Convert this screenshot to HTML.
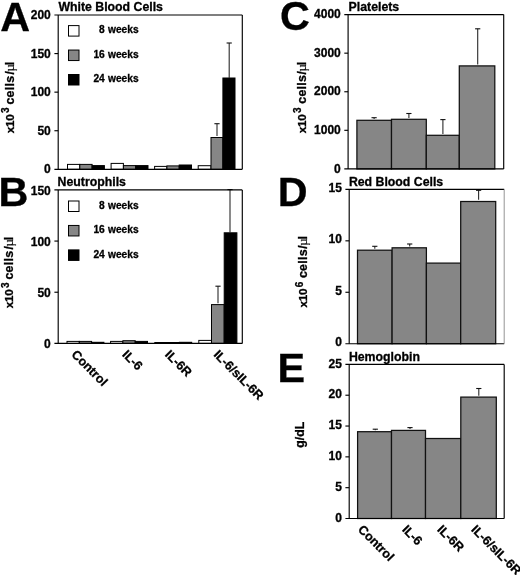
<!DOCTYPE html>
<html lang="en">
<head>
<meta charset="utf-8">
<title>Figure</title>
<style>
html,body{margin:0;padding:0;background:#fff;}
body{width:520px;height:575px;overflow:hidden;}
svg{display:block;}
svg text{font-family:"Liberation Sans",sans-serif;font-weight:bold;fill:#000;stroke:#000;stroke-width:0.3px;}
.lg{word-spacing:0.4px;}
svg text.mu{font-family:"Liberation Serif",serif;font-weight:normal;stroke-width:0.15px;font-size:13px;}
</style>
</head>
<body>
<svg width="520" height="575" viewBox="0 0 520 575">
<rect x="0" y="0" width="520" height="575" fill="#fff"/>
<g id="panelA">
<text x="0.2" y="31.1" font-size="41.3" text-anchor="start" >A</text>
<text x="58.4" y="10.6" font-size="12.3" text-anchor="start" >White Blood Cells</text>
<rect x="67.50" y="164.40" width="12.30" height="4.90" fill="#fff" stroke="#000" stroke-width="1"/>
<rect x="79.80" y="164.40" width="12.30" height="4.90" fill="#868686" stroke="#000" stroke-width="1"/>
<rect x="92.10" y="165.60" width="12.30" height="3.70" fill="#000" stroke="#000" stroke-width="1"/>
<rect x="111.10" y="163.40" width="12.30" height="5.90" fill="#fff" stroke="#000" stroke-width="1"/>
<rect x="123.40" y="165.60" width="12.30" height="3.70" fill="#868686" stroke="#000" stroke-width="1"/>
<rect x="135.70" y="165.60" width="12.30" height="3.70" fill="#000" stroke="#000" stroke-width="1"/>
<rect x="154.60" y="166.40" width="12.30" height="2.90" fill="#fff" stroke="#000" stroke-width="1"/>
<rect x="166.90" y="165.90" width="12.30" height="3.40" fill="#868686" stroke="#000" stroke-width="1"/>
<rect x="179.20" y="165.00" width="12.30" height="4.30" fill="#000" stroke="#000" stroke-width="1"/>
<rect x="198.20" y="165.70" width="12.80" height="3.60" fill="#fff" stroke="#000" stroke-width="1"/>
<rect x="211.00" y="137.50" width="11.90" height="31.80" fill="#868686" stroke="#000" stroke-width="1"/>
<rect x="222.90" y="78.00" width="12.10" height="91.30" fill="#000" stroke="#000" stroke-width="1"/>
<line x1="217.0" y1="123.7" x2="217.0" y2="136.1" stroke="#2a2a2a" stroke-width="1.1"/>
<line x1="214.4" y1="123.7" x2="219.6" y2="123.7" stroke="#111" stroke-width="1.1"/>
<line x1="229.2" y1="43.0" x2="229.2" y2="78.0" stroke="#2a2a2a" stroke-width="1.1"/>
<line x1="226.6" y1="43.0" x2="231.79999999999998" y2="43.0" stroke="#111" stroke-width="1.1"/>
<line x1="58.2" y1="15.0" x2="58.2" y2="169.3" stroke="#000" stroke-width="1.15"/>
<line x1="54.400000000000006" y1="169.3" x2="242.3" y2="169.3" stroke="#000" stroke-width="1.15"/>
<line x1="54.400000000000006" y1="15.0" x2="242.3" y2="15.0" stroke="#000" stroke-width="1.15"/>
<line x1="242.3" y1="15.0" x2="242.3" y2="169.3" stroke="#000" stroke-width="1.15"/>
<text x="50.8" y="173.4" font-size="12" text-anchor="end" >0</text>
<line x1="54.400000000000006" y1="130.73" x2="58.2" y2="130.73" stroke="#000" stroke-width="1.15"/>
<text x="50.8" y="134.83" font-size="12" text-anchor="end" >50</text>
<line x1="54.400000000000006" y1="92.15" x2="58.2" y2="92.15" stroke="#000" stroke-width="1.15"/>
<text x="50.8" y="96.25" font-size="12" text-anchor="end" >100</text>
<line x1="54.400000000000006" y1="53.58" x2="58.2" y2="53.58" stroke="#000" stroke-width="1.15"/>
<text x="50.8" y="57.68" font-size="12" text-anchor="end" >150</text>
<text x="50.8" y="19.1" font-size="12" text-anchor="end" >200</text>
<g transform="translate(13.5,133.2) rotate(-90)" font-size="12.4"><text x="0" y="0" font-size="11.7" letter-spacing="-0.25">x10</text><text x="20.3" y="-4.7" font-size="10">3</text><text x="28.6" y="0" letter-spacing="0.3">cells</text><text x="58.7" y="0">/</text><text x="61.7" y="0" class="mu">µ</text><text x="68.0" y="0">l</text></g>
<rect x="68.50" y="25.60" width="10.50" height="10.50" fill="#fff" stroke="#000" stroke-width="1"/>
<text x="138.6" y="33.2" font-size="10.2" text-anchor="end" class="lg">8 weeks</text>
<rect x="68.50" y="50.05" width="10.50" height="10.50" fill="#868686" stroke="#000" stroke-width="1"/>
<text x="138.6" y="57.65" font-size="10.2" text-anchor="end" class="lg">16 weeks</text>
<rect x="68.50" y="74.50" width="10.50" height="10.50" fill="#000" stroke="#000" stroke-width="1"/>
<text x="138.6" y="82.1" font-size="10.2" text-anchor="end" class="lg">24 weeks</text>
</g>
<g id="panelB">
<text x="-1.6" y="206.4" font-size="41.3" text-anchor="start" >B</text>
<text x="57.6" y="186.2" font-size="12.3" text-anchor="start" >Neutrophils</text>
<rect x="67.00" y="341.40" width="12.30" height="2.00" fill="#fff" stroke="#000" stroke-width="1"/>
<rect x="79.30" y="341.40" width="12.30" height="2.00" fill="#868686" stroke="#000" stroke-width="1"/>
<rect x="91.60" y="342.30" width="12.30" height="1.10" fill="#000" stroke="#000" stroke-width="1"/>
<rect x="110.60" y="341.40" width="12.30" height="2.00" fill="#fff" stroke="#000" stroke-width="1"/>
<rect x="122.90" y="340.70" width="12.30" height="2.70" fill="#868686" stroke="#000" stroke-width="1"/>
<rect x="135.20" y="341.40" width="12.30" height="2.00" fill="#000" stroke="#000" stroke-width="1"/>
<rect x="154.80" y="342.50" width="12.30" height="0.90" fill="#fff" stroke="#000" stroke-width="1"/>
<rect x="167.10" y="342.50" width="12.30" height="0.90" fill="#868686" stroke="#000" stroke-width="1"/>
<rect x="179.40" y="342.30" width="12.30" height="1.10" fill="#000" stroke="#000" stroke-width="1"/>
<rect x="198.80" y="340.40" width="12.70" height="3.00" fill="#fff" stroke="#000" stroke-width="1"/>
<rect x="211.50" y="304.60" width="12.70" height="38.80" fill="#868686" stroke="#000" stroke-width="1"/>
<rect x="224.20" y="232.80" width="12.70" height="110.60" fill="#000" stroke="#000" stroke-width="1"/>
<line x1="218.0" y1="286.2" x2="218.0" y2="303.2" stroke="#2a2a2a" stroke-width="1.1"/>
<line x1="215.4" y1="286.2" x2="220.6" y2="286.2" stroke="#111" stroke-width="1.1"/>
<line x1="230.0" y1="189.6" x2="230.0" y2="232.8" stroke="#2a2a2a" stroke-width="1.1"/>
<line x1="227.4" y1="189.6" x2="232.6" y2="189.6" stroke="#111" stroke-width="1.1"/>
<line x1="58.2" y1="189.9" x2="58.2" y2="343.4" stroke="#000" stroke-width="1.15"/>
<line x1="54.400000000000006" y1="343.4" x2="242.3" y2="343.4" stroke="#000" stroke-width="1.15"/>
<line x1="54.400000000000006" y1="189.9" x2="242.3" y2="189.9" stroke="#000" stroke-width="1.15"/>
<line x1="242.3" y1="189.9" x2="242.3" y2="343.4" stroke="#000" stroke-width="1.15"/>
<text x="50.8" y="348.1" font-size="12" text-anchor="end" >0</text>
<line x1="54.400000000000006" y1="292.23" x2="58.2" y2="292.23" stroke="#000" stroke-width="1.15"/>
<text x="50.8" y="296.93" font-size="12" text-anchor="end" >50</text>
<line x1="54.400000000000006" y1="241.07" x2="58.2" y2="241.07" stroke="#000" stroke-width="1.15"/>
<text x="50.8" y="245.77" font-size="12" text-anchor="end" >100</text>
<text x="50.8" y="194.6" font-size="12" text-anchor="end" >150</text>
<g transform="translate(13.2,308.2) rotate(-90)" font-size="12.4"><text x="0" y="0" font-size="11.7" letter-spacing="-0.25">x10</text><text x="20.3" y="-4.7" font-size="10">3</text><text x="28.6" y="0" letter-spacing="0.3">cells</text><text x="58.7" y="0">/</text><text x="61.7" y="0" class="mu">µ</text><text x="68.0" y="0">l</text></g>
<rect x="68.50" y="201.00" width="10.50" height="10.50" fill="#fff" stroke="#000" stroke-width="1"/>
<text x="138.6" y="208.6" font-size="10.2" text-anchor="end" class="lg">8 weeks</text>
<rect x="68.50" y="225.45" width="10.50" height="10.50" fill="#868686" stroke="#000" stroke-width="1"/>
<text x="138.6" y="233.05" font-size="10.2" text-anchor="end" class="lg">16 weeks</text>
<rect x="68.50" y="249.90" width="10.50" height="10.50" fill="#000" stroke="#000" stroke-width="1"/>
<text x="138.6" y="257.5" font-size="10.2" text-anchor="end" class="lg">24 weeks</text>
<text transform="translate(70.8,355.2) rotate(45)" font-size="12.6">Control</text>
<text transform="translate(121.6,355.2) rotate(45)" font-size="12.6">IL-6</text>
<text transform="translate(164.3,355.2) rotate(45)" font-size="12.6">IL-6R</text>
<text transform="translate(212.9,355.2) rotate(45)" font-size="12.6">IL-6/sIL-6R</text>
</g>
<g id="panelC">
<text x="279.9" y="30.3" font-size="41.3" text-anchor="start" >C</text>
<text x="348.6" y="10.8" font-size="12.3" text-anchor="start" >Platelets</text>
<rect x="356.90" y="120.30" width="34.60" height="48.60" fill="#868686" stroke="#111" stroke-width="1.25"/>
<rect x="391.50" y="119.30" width="34.80" height="49.60" fill="#868686" stroke="#111" stroke-width="1.25"/>
<rect x="426.30" y="135.30" width="33.00" height="33.60" fill="#868686" stroke="#111" stroke-width="1.25"/>
<rect x="459.30" y="65.90" width="35.50" height="103.00" fill="#868686" stroke="#111" stroke-width="1.25"/>
<line x1="374.1" y1="117.7" x2="374.1" y2="118.9" stroke="#2a2a2a" stroke-width="1.1"/>
<line x1="371.5" y1="117.7" x2="376.70000000000005" y2="117.7" stroke="#111" stroke-width="1.1"/>
<line x1="408.9" y1="113.5" x2="408.9" y2="117.9" stroke="#2a2a2a" stroke-width="1.1"/>
<line x1="406.29999999999995" y1="113.5" x2="411.5" y2="113.5" stroke="#111" stroke-width="1.1"/>
<line x1="442.9" y1="119.6" x2="442.9" y2="133.9" stroke="#2a2a2a" stroke-width="1.1"/>
<line x1="440.29999999999995" y1="119.6" x2="445.5" y2="119.6" stroke="#111" stroke-width="1.1"/>
<line x1="477.7" y1="28.8" x2="477.7" y2="64.5" stroke="#2a2a2a" stroke-width="1.1"/>
<line x1="475.09999999999997" y1="28.8" x2="480.3" y2="28.8" stroke="#111" stroke-width="1.1"/>
<line x1="348.1" y1="14.6" x2="348.1" y2="168.9" stroke="#000" stroke-width="1.15"/>
<line x1="344.3" y1="168.9" x2="503.7" y2="168.9" stroke="#000" stroke-width="1.15"/>
<line x1="344.3" y1="14.6" x2="503.7" y2="14.6" stroke="#000" stroke-width="1.15"/>
<line x1="503.7" y1="14.6" x2="503.7" y2="168.9" stroke="#000" stroke-width="1.15"/>
<text x="340.8" y="172.6" font-size="12" text-anchor="end" >0</text>
<line x1="344.3" y1="130.32" x2="348.1" y2="130.32" stroke="#000" stroke-width="1.15"/>
<text x="340.8" y="134.02" font-size="12" text-anchor="end" >1000</text>
<line x1="344.3" y1="91.75" x2="348.1" y2="91.75" stroke="#000" stroke-width="1.15"/>
<text x="340.8" y="95.45" font-size="12" text-anchor="end" >2000</text>
<line x1="344.3" y1="53.17" x2="348.1" y2="53.17" stroke="#000" stroke-width="1.15"/>
<text x="340.8" y="56.88" font-size="12" text-anchor="end" >3000</text>
<text x="340.8" y="18.3" font-size="12" text-anchor="end" >4000</text>
</g>
<g transform="translate(305.7,133.2) rotate(-90)" font-size="12.4"><text x="0" y="0" font-size="11.7" letter-spacing="-0.25">x10</text><text x="20.3" y="-4.7" font-size="10">3</text><text x="29.4" y="0" letter-spacing="0.3">cells</text><text x="58.7" y="0">/</text><text x="61.7" y="0" class="mu">µ</text><text x="68.0" y="0">l</text></g>
<g id="panelD">
<text x="277.8" y="206.3" font-size="41.3" text-anchor="start" >D</text>
<text x="348.9" y="185.6" font-size="12.3" text-anchor="start" >Red Blood Cells</text>
<rect x="357.50" y="250.20" width="34.60" height="93.50" fill="#868686" stroke="#111" stroke-width="1.25"/>
<rect x="392.10" y="247.80" width="34.30" height="95.90" fill="#868686" stroke="#111" stroke-width="1.25"/>
<rect x="426.40" y="263.10" width="34.30" height="80.60" fill="#868686" stroke="#111" stroke-width="1.25"/>
<rect x="460.70" y="201.50" width="35.00" height="142.20" fill="#868686" stroke="#111" stroke-width="1.25"/>
<line x1="374.8" y1="246.3" x2="374.8" y2="248.8" stroke="#2a2a2a" stroke-width="1.1"/>
<line x1="372.2" y1="246.3" x2="377.40000000000003" y2="246.3" stroke="#111" stroke-width="1.1"/>
<line x1="409.7" y1="244.0" x2="409.7" y2="246.4" stroke="#2a2a2a" stroke-width="1.1"/>
<line x1="407.09999999999997" y1="244.0" x2="412.3" y2="244.0" stroke="#111" stroke-width="1.1"/>
<line x1="478.6" y1="190.3" x2="478.6" y2="199.8" stroke="#2a2a2a" stroke-width="1.1"/>
<line x1="476.0" y1="190.3" x2="481.20000000000005" y2="190.3" stroke="#111" stroke-width="1.1"/>
<line x1="349.2" y1="189.4" x2="349.2" y2="343.7" stroke="#000" stroke-width="1.15"/>
<line x1="345.4" y1="343.7" x2="504.2" y2="343.7" stroke="#000" stroke-width="1.15"/>
<line x1="345.4" y1="189.4" x2="504.2" y2="189.4" stroke="#000" stroke-width="1.15"/>
<line x1="504.2" y1="189.4" x2="504.2" y2="343.7" stroke="#888" stroke-width="0.9"/>
<text x="341.90000000000003" y="346.1" font-size="12" text-anchor="end" >0</text>
<line x1="345.4" y1="292.27" x2="349.2" y2="292.27" stroke="#000" stroke-width="1.15"/>
<text x="341.90000000000003" y="294.67" font-size="12" text-anchor="end" >5</text>
<line x1="345.4" y1="240.83" x2="349.2" y2="240.83" stroke="#000" stroke-width="1.15"/>
<text x="341.90000000000003" y="243.23" font-size="12" text-anchor="end" >10</text>
<text x="341.90000000000003" y="191.8" font-size="12" text-anchor="end" >15</text>
</g>
<g transform="translate(307.2,307.5) rotate(-90)" font-size="12.4"><text x="0" y="0" font-size="11.7" letter-spacing="-0.25">x10</text><text x="20.3" y="-4.7" font-size="10">6</text><text x="29.4" y="0" letter-spacing="0.3">cells</text><text x="58.7" y="0">/</text><text x="61.7" y="0" class="mu">µ</text><text x="68.0" y="0">l</text></g>
<g id="panelE">
<text x="277.5" y="381.6" font-size="41.3" text-anchor="start" >E</text>
<text x="348.9" y="360.6" font-size="12.3" text-anchor="start" >Hemoglobin</text>
<rect x="357.60" y="431.70" width="33.90" height="86.80" fill="#868686" stroke="#111" stroke-width="1.25"/>
<rect x="391.50" y="430.40" width="34.00" height="88.10" fill="#868686" stroke="#111" stroke-width="1.25"/>
<rect x="425.50" y="438.50" width="35.30" height="80.00" fill="#868686" stroke="#111" stroke-width="1.25"/>
<rect x="460.80" y="397.10" width="35.50" height="121.40" fill="#868686" stroke="#111" stroke-width="1.25"/>
<line x1="375.3" y1="429.2" x2="375.3" y2="430.3" stroke="#2a2a2a" stroke-width="1.1"/>
<line x1="372.7" y1="429.2" x2="377.90000000000003" y2="429.2" stroke="#111" stroke-width="1.1"/>
<line x1="410.0" y1="427.6" x2="410.0" y2="429.0" stroke="#2a2a2a" stroke-width="1.1"/>
<line x1="407.4" y1="427.6" x2="412.6" y2="427.6" stroke="#111" stroke-width="1.1"/>
<line x1="478.8" y1="388.5" x2="478.8" y2="395.7" stroke="#2a2a2a" stroke-width="1.1"/>
<line x1="476.2" y1="388.5" x2="481.40000000000003" y2="388.5" stroke="#111" stroke-width="1.1"/>
<line x1="349.2" y1="364.4" x2="349.2" y2="518.5" stroke="#000" stroke-width="1.15"/>
<line x1="345.4" y1="518.5" x2="504.2" y2="518.5" stroke="#000" stroke-width="1.15"/>
<line x1="345.4" y1="364.4" x2="504.2" y2="364.4" stroke="#000" stroke-width="1.15"/>
<line x1="504.2" y1="364.4" x2="504.2" y2="518.5" stroke="#000" stroke-width="1.15"/>
<text x="341.90000000000003" y="521.7" font-size="12" text-anchor="end" >0</text>
<line x1="345.4" y1="487.68" x2="349.2" y2="487.68" stroke="#000" stroke-width="1.15"/>
<text x="341.90000000000003" y="490.88" font-size="12" text-anchor="end" >5</text>
<line x1="345.4" y1="456.86" x2="349.2" y2="456.86" stroke="#000" stroke-width="1.15"/>
<text x="341.90000000000003" y="460.06" font-size="12" text-anchor="end" >10</text>
<line x1="345.4" y1="426.04" x2="349.2" y2="426.04" stroke="#000" stroke-width="1.15"/>
<text x="341.90000000000003" y="429.24" font-size="12" text-anchor="end" >15</text>
<line x1="345.4" y1="395.22" x2="349.2" y2="395.22" stroke="#000" stroke-width="1.15"/>
<text x="341.90000000000003" y="398.42" font-size="12" text-anchor="end" >20</text>
<text x="341.90000000000003" y="367.6" font-size="12" text-anchor="end" >25</text>
</g>
<text transform="translate(304.2,434.8) rotate(-90)" font-size="12.3" text-anchor="middle">g/dL</text>
<text transform="translate(357.3,530.2) rotate(45)" font-size="12.6">Control</text>
<text transform="translate(401.4,530.2) rotate(45)" font-size="12.6">IL-6</text>
<text transform="translate(436.6,530.2) rotate(45)" font-size="12.6">IL-6R</text>
<text transform="translate(470.6,530.2) rotate(45)" font-size="12.6">IL-6/sIL-6R</text>
</svg>
</body>
</html>
